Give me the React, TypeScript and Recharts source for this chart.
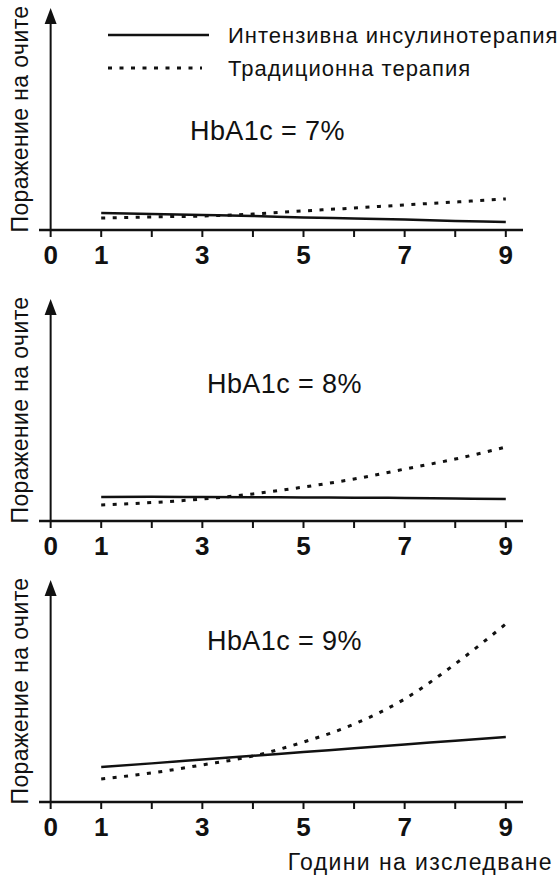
import React from 'react';
import { LineChart, Line, XAxis, YAxis, ReferenceLine, Legend } from 'recharts';

const years = [1, 2, 3, 4, 5, 6, 7, 8, 9];
const xTicks = [0, 1, 2, 3, 4, 5, 6, 7, 8, 9];
const labeledTicks = [0, 1, 3, 5, 7, 9];

const seriesNames = ['Интензивна инсулинотерапия', 'Традиционна терапия'];
const panelTitles = ['HbA1c = 7%', 'HbA1c = 8%', 'HbA1c = 9%'];
const yLabel = 'Поражение на очите';
const xLabel = 'Години на изследване';

// eye damage, arbitrary units (0-100)
const intensive7 = [7.7, 7.2, 6.8, 6.3, 5.6, 5.2, 4.7, 4.1, 3.6];
const traditional7 = [5.4, 5.9, 6.3, 7.2, 8.6, 9.9, 11.3, 12.6, 14.0];
const intensive8 = [10.8, 10.9, 10.8, 10.7, 10.6, 10.5, 10.4, 10.1, 9.9];
const traditional8 = [7.2, 8.3, 9.9, 12.2, 15.3, 18.9, 23.4, 27.9, 33.3];
const intensive9 = [15.8, 17.4, 19.1, 20.8, 22.5, 24.2, 25.9, 27.6, 29.3];
const traditional9 = [10.4, 13.1, 16.7, 20.7, 27.0, 35.1, 46.4, 62.2, 80.2];

const FONT = '"Liberation Sans", Arial, Helvetica, sans-serif';
const INK = '#111';
const DASH = '4 7.5';

const YArrow = (props: any) => {
  const { x1, y1, y2 } = props;
  const top = Math.min(y1, y2);
  const bottom = Math.max(y1, y2);
  return (
    <g>
      <line x1={x1} y1={bottom} x2={x1} y2={top + 10} stroke={INK} strokeWidth={2} />
      <path d={`M${x1},${top} L${x1 - 6},${top + 16} L${x1 + 6},${top + 16} Z`} fill={INK} />
    </g>
  );
};

const LegendBox = (props: any) => {
  const items = props.payload || [];
  return (
    <svg width={560} height={90} style={{ display: 'block' }}>
      {items.map((entry: any, i: number) => {
        const y = i === 0 ? 35 : 68;
        return (
          <g key={i}>
            <line
              x1={108}
              y1={y}
              x2={i === 0 ? 209 : 202}
              y2={y}
              stroke={INK}
              strokeWidth={i === 0 ? 2.5 : 3}
              strokeDasharray={i === 0 ? undefined : DASH}
            />
            <text
              x={228}
              y={y}
              dy="0.36em"
              fontFamily={FONT}
              fontSize={22}
              letterSpacing={1}
              fill={INK}
            >
              {entry.value || seriesNames[i]}
            </text>
          </g>
        );
      })}
    </svg>
  );
};

type PanelProps = {
  intensive: number[];
  traditional: number[];
  title: string;
  titleX: number;
  titleY: number;
  top: number;
  legend?: boolean;
  xTitle?: boolean;
};

const Panel = ({ intensive, traditional, title, titleX, titleY, top, legend, xTitle }: PanelProps) => {
  const data = years.map((year, i) => ({
    year,
    intensive: intensive[i],
    traditional: traditional[i],
  }));
  const axisHeight = xTitle ? 76 : 40;
  const height = 8 + 222 + axisHeight;
  return (
    <div style={{ position: 'absolute', left: 0, top }}>
      <LineChart width={560} height={height} data={data} margin={{ top: 8, right: 37, left: 1, bottom: 0 }}>
        <XAxis
          dataKey="year"
          type="number"
          domain={[-0.23, 9.34]}
          ticks={xTicks}
          allowDataOverflow
          height={axisHeight}
          tickFormatter={(v: number) => (labeledTicks.includes(v) ? String(v) : '')}
          tickSize={7}
          tickMargin={9}
          interval={0}
          axisLine={{ stroke: INK, strokeWidth: 2.5 }}
          tickLine={{ stroke: INK, strokeWidth: 2 }}
          tick={{ fill: INK, fontSize: 26, fontWeight: 'bold', fontFamily: FONT }}
        />
        <YAxis
          domain={[0, 100]}
          width={38}
          axisLine={false}
          tickLine={false}
          tick={false}
          label={{
            value: yLabel,
            angle: -90,
            position: 'center',
            fill: INK,
            fontSize: 23,
            fontFamily: FONT,
            letterSpacing: 0.4,
          }}
        />
        <ReferenceLine x={0} stroke={INK} shape={YArrow} />
        <Line
          dataKey="intensive"
          name={seriesNames[0]}
          type="monotone"
          stroke={INK}
          strokeWidth={2.5}
          dot={false}
          isAnimationActive={false}
        />
        <Line
          dataKey="traditional"
          name={seriesNames[1]}
          type="monotone"
          stroke={INK}
          strokeWidth={3}
          strokeDasharray={DASH}
          dot={false}
          isAnimationActive={false}
        />
        {legend && (
          <Legend
            layout="vertical"
            align="center"
            verticalAlign="middle"
            content={LegendBox}
            wrapperStyle={{ left: 0, top: 0, width: 560, height: 90 }}
          />
        )}
        <text x={titleX} y={titleY} dy="0.36em" fontFamily={FONT} fontSize={27} letterSpacing={0.4} fill={INK}>
          {title}
        </text>
        {xTitle && (
          <text x={553} y={290} dy="0.36em" textAnchor="end" fontFamily={FONT} fontSize={23} letterSpacing={1.4} fill={INK}>
            {xLabel}
          </text>
        )}
      </LineChart>
    </div>
  );
};

export default function App() {
  return (
    <div style={{ position: 'absolute', left: 0, top: 0, width: 560, height: 878, background: '#fff' }}>
      <Panel intensive={intensive7} traditional={traditional7} title={panelTitles[0]} titleX={190} titleY={130} top={0} legend />
      <Panel intensive={intensive8} traditional={traditional8} title={panelTitles[1]} titleX={207} titleY={92} top={291} />
      <Panel intensive={intensive9} traditional={traditional9} title={panelTitles[2]} titleX={207} titleY={68} top={572} xTitle />
    </div>
  );
}
